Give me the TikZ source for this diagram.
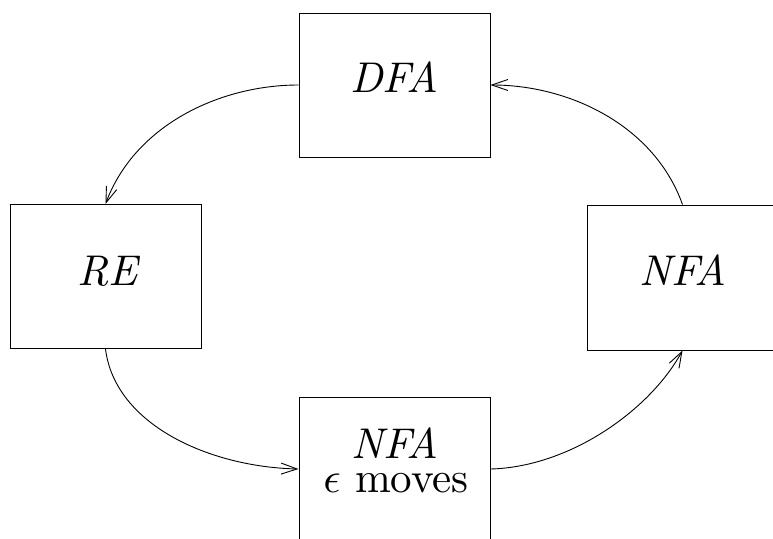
\documentclass[tikz,border=0pt]{standalone}
\usetikzlibrary{arrows.meta}
% scale the 10pt design size of the math italic linearly
\DeclareFontShape{OML}{cmm}{m}{it}{<->cmmi10}{}
\begin{document}
% likewise for the text fonts (their fd file is loaded by now)
\DeclareFontShape{TU}{lmr}{m}{n}{<->\UnicodeFontFile{lmroman10-regular}{\UnicodeFontTeXLigatures}}{}
\DeclareFontShape{TU}{lmr}{m}{it}{<->\UnicodeFontFile{lmroman10-italic}{\UnicodeFontTeXLigatures}}{}
\begin{tikzpicture}[x=1pt,y=-1pt,
  box/.style={draw=black,line width=1pt,minimum width=191pt,minimum height=144pt,inner sep=0pt},
  lbl/.style={anchor=base,inner sep=0pt,font=\fontsize{43}{43}\selectfont},
  conn/.style={draw=black,line width=0.9pt,-{Straight Barb[length=16pt,width=11pt,line width=0.9pt]}}]
  \useasboundingbox (0,0) rectangle (773,538);

  % the four automaton boxes
  \node[box] (dfa) at (394.5,85) {};
  \node[box] (re) at (105.5,276.5) {};
  \node[box,minimum height=145pt] (nfa) at (682.5,277.5) {};
  \node[box] (enfa) at (394.5,469) {};

  % box labels
  \node[lbl] (dfatxt) at (394.5,92) {\itshape DFA};
  \node[lbl] (retxt) at (107.5,285) {\itshape RE};
  \node[lbl] (nfatxt) at (683,285) {\itshape NFA};
  \node[lbl,text depth=0pt] (enfatxt) at (395,458) {\itshape NFA};
  \node[lbl,text height=18pt] (enfasub) at (396,492) {$\epsilon$ moves};

  % conversion cycle
  \draw[conn] (dfa.west) .. controls (220,85) and (135,125) .. (re.north);
  \draw[conn] (re.south) .. controls (115,425) and (210,467) .. (enfa.west);
  \draw[conn] (enfa.east) .. controls (570,467) and (650,410) .. (nfa.south);
  \draw[conn] (nfa.north) .. controls (654,125) and (569,85) .. (dfa.east);
\end{tikzpicture}
\end{document}
